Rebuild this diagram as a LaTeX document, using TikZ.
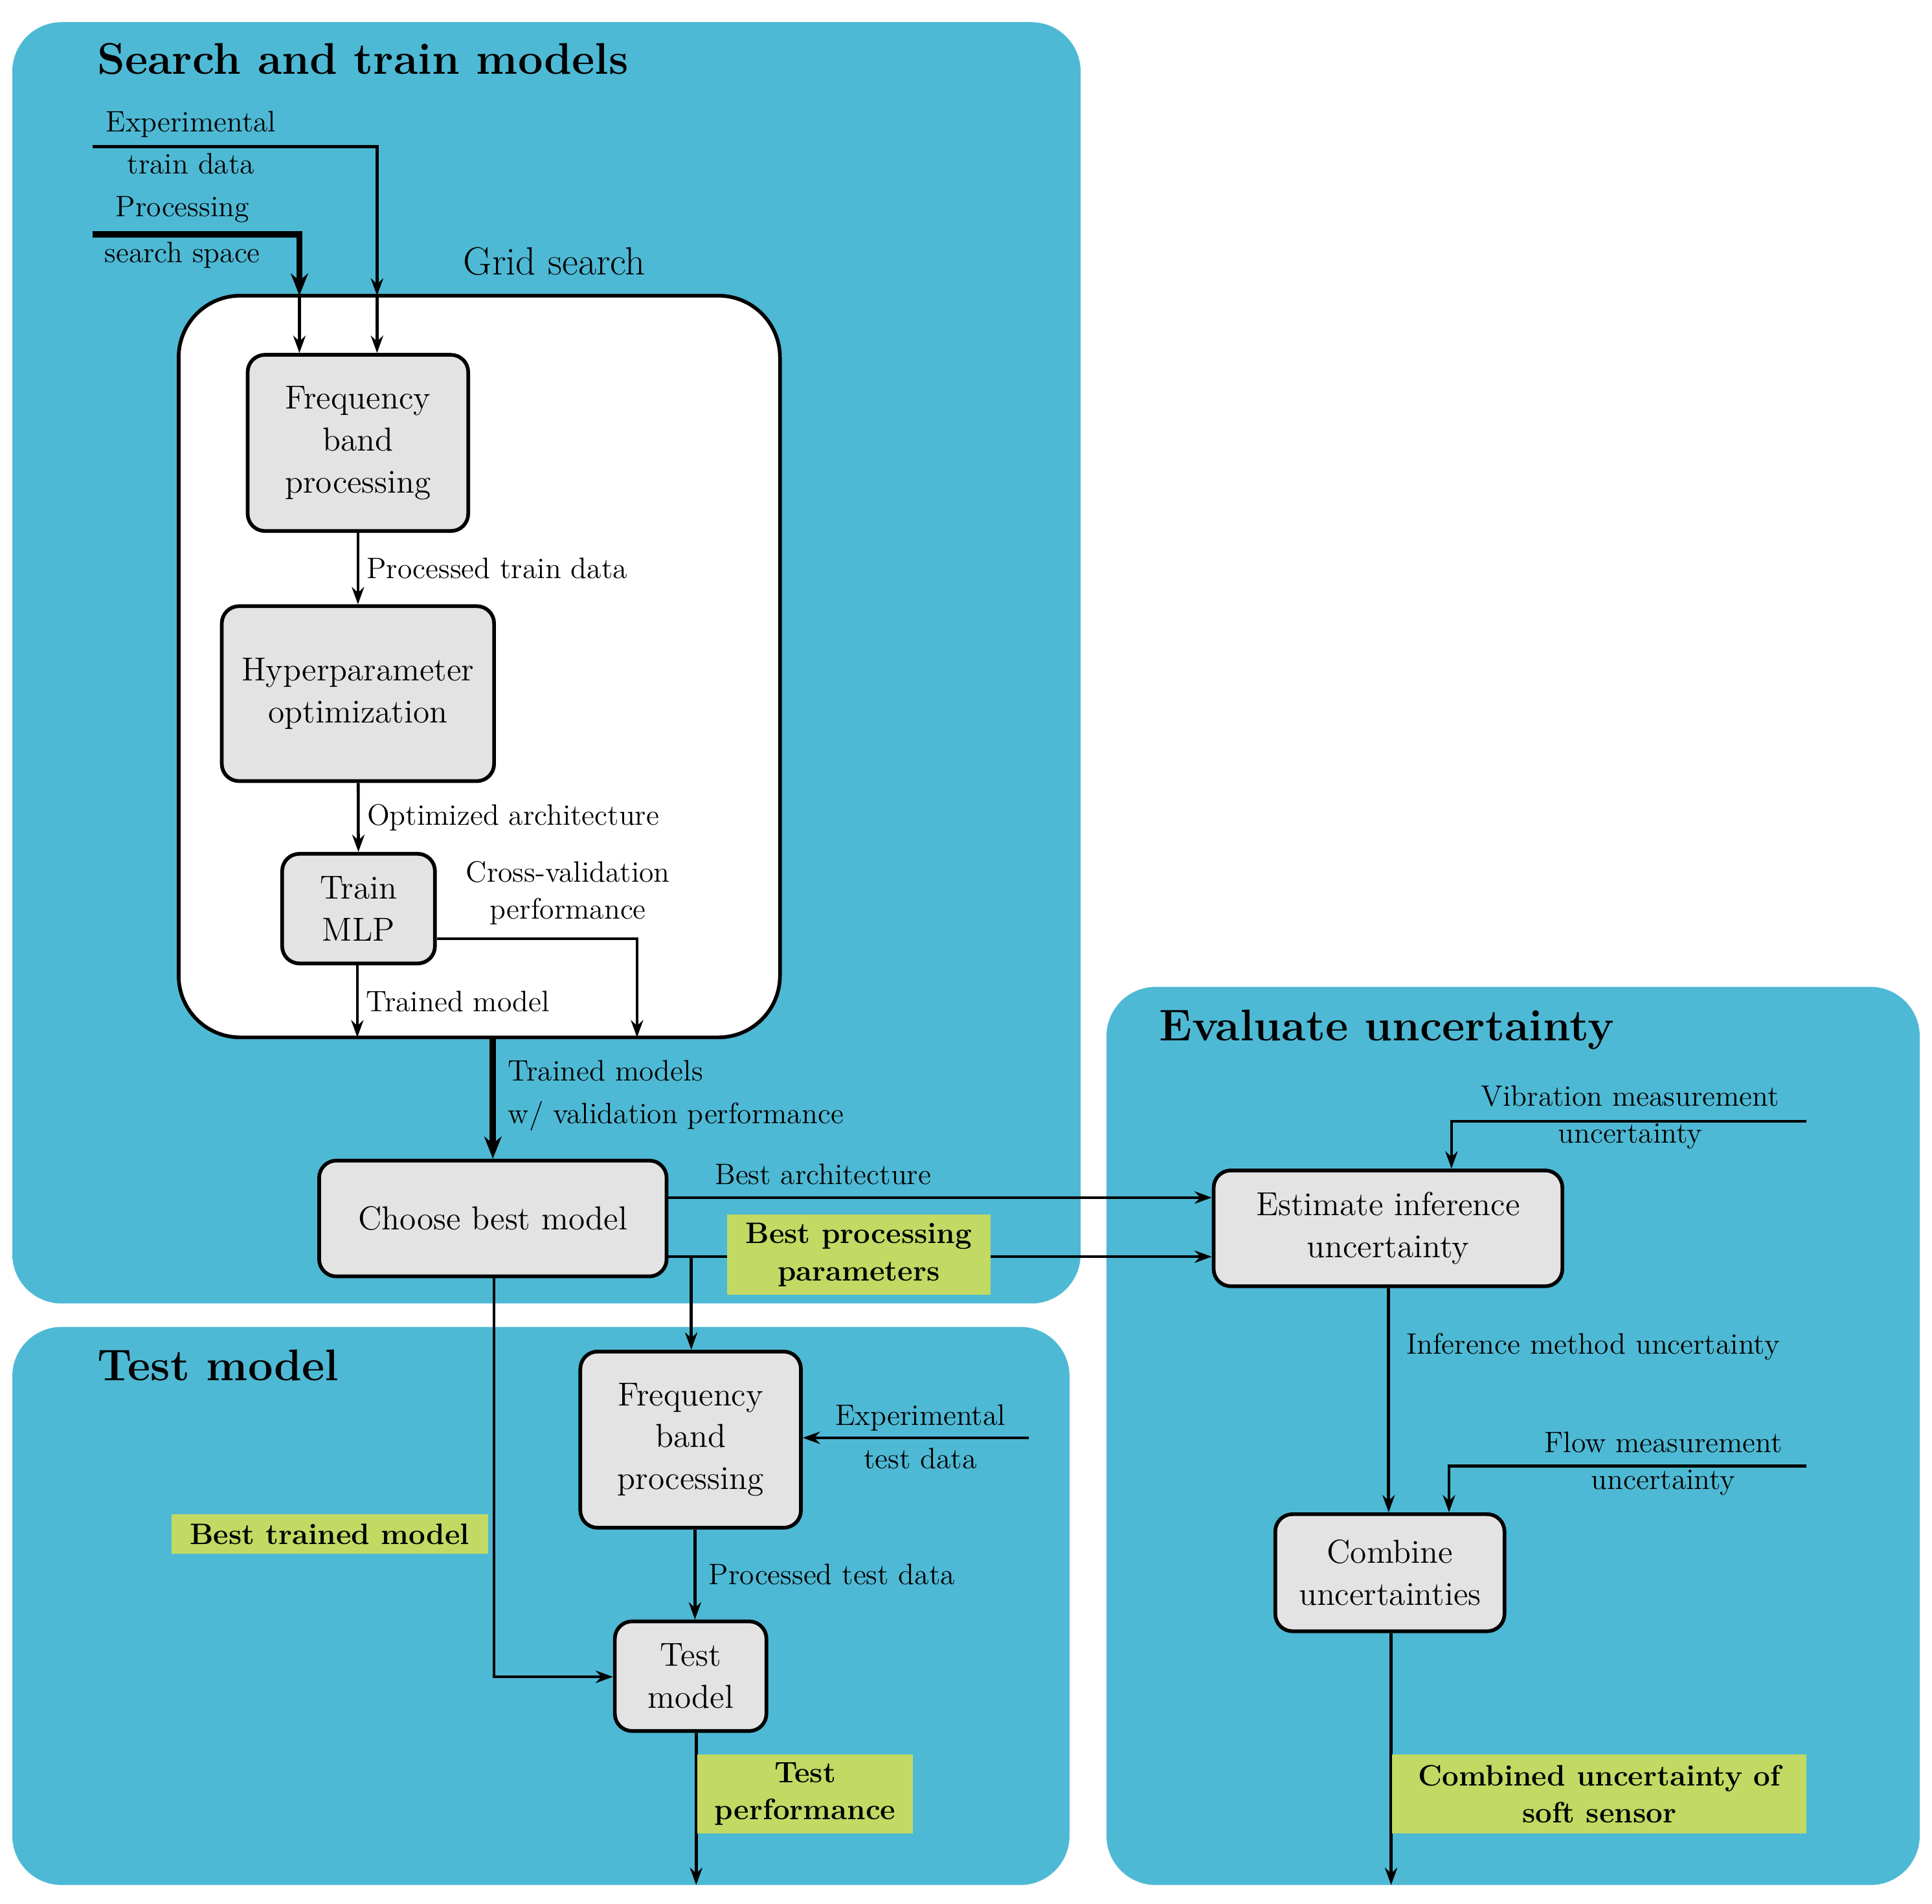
\documentclass[tikz,border=0pt]{standalone}
\usetikzlibrary{arrows.meta}
\begin{document}
\begin{tikzpicture}[x=0.5pt,y=-0.5pt,
 bg/.style={fill=cyanbg,draw=none,rounded corners=20pt},
 box/.style={draw,line width=1.5pt,fill=gray!22,rounded corners=7pt,align=center,font=\fontsize{13.5}{17}\selectfont},
 arr/.style={line width=1.2pt,-{Stealth[length=7pt,width=5pt]}},
 tarr/.style={line width=2.6pt,-{Stealth[length=9pt,width=7pt]}},
 lab/.style={font=\fontsize{12}{15}\selectfont,inner sep=1pt},
 glab/.style={fill=greenlab,font=\bfseries\fontsize{12}{15}\selectfont,align=center,inner sep=0pt},
 ttl/.style={font=\bfseries\fontsize{18}{22}\selectfont,anchor=west}]
\definecolor{cyanbg}{HTML}{4EB9D4}
\definecolor{greenlab}{HTML}{C2D963}
\useasboundingbox (0,0) rectangle (1568,1545);
\fill[bg] (10,18) rectangle (877,1058);
\fill[bg] (10,1077) rectangle (868,1530);
\fill[bg] (898,801) rectangle (1558,1530);
\node[ttl] (t1) at (72,48) {Search and train models};
\node[ttl] (t2) at (72,1108) {Test model};
\node[ttl] (t3) at (934,836) {Evaluate uncertainty};
\draw[line width=1.5pt,fill=white,rounded corners=25pt] (145,240) rectangle (633,842);
\node[font=\fontsize{16}{20}\selectfont] (gs) at (450,212) {Grid search};
\node[box,minimum width=89.5pt,minimum height=71.5pt] (f1) at (290.5,359.5) {Frequency\\band\\processing};
\node[box,minimum width=110.5pt,minimum height=71pt,inner sep=0pt] (hp) at (290.5,563) {Hyperparameter\\optimization};
\node[box,minimum width=62pt,minimum height=44.5pt,inner sep=0pt] (mlp) at (291,737.5) {Train\\MLP};
\node[box,minimum width=141pt,minimum height=47pt] (cb) at (400,989) {Choose best model};
\node[box,minimum width=89.5pt,minimum height=71.5pt] (f2) at (560.5,1168.5) {Frequency\\band\\processing};
\node[box,minimum width=61.5pt,minimum height=44.5pt,inner sep=0pt] (tm) at (560.5,1360.5) {Test\\model};
\node[box,minimum width=141.5pt,minimum height=47pt] (eu) at (1126.5,997) {Estimate inference\\uncertainty};
\node[box,minimum width=93pt,minimum height=47.5pt,inner sep=0pt] (cu) at (1128,1276.5) {Combine\\uncertainties};
\coordinate (g1) at (243,240); \coordinate (g2) at (306,240);
\coordinate (gb1) at (290,842); \coordinate (gb2) at (517,842); \coordinate (gb3) at (400,842);
\draw[arr] (75,119) -- (306,119) -- (g2);
\draw[arr] (g2) -- (f1.north -| g2);
\draw[tarr] (75,190) -- (243,190) -- (g1);
\draw[arr] (g1) -- (f1.north -| g1);
\node[lab] (l1) at (155,101) {Experimental};
\node[lab] (l2) at (155,133) {train data};
\node[lab] (l3) at (148,170) {Processing};
\node[lab] (l4) at (148,207) {search space};
\draw[arr] (f1) -- (hp) node[lab,midway,anchor=west,xshift=2pt] {Processed train data};
\draw[arr] (hp) -- (mlp) node[lab,midway,anchor=west,xshift=2pt] {Optimized architecture};
\draw[arr] (mlp.south -| gb1) -- (gb1) node[lab,midway,anchor=west,xshift=2pt] {Trained model};
\draw[arr] (mlp.east |- 0,762) -- (517,762) -- (gb2);
\node[lab,align=center] (cv) at (461,725) {Cross-validation\\performance};
\draw[tarr] (gb3) -- (cb.north);
\node[lab,anchor=west] (tw1) at (410,869) {Trained models};
\node[lab,anchor=west] (tw2) at (410,906) {w/ validation performance};
\draw[arr] (cb.east |- 0,972) -- (eu.west |- 0,972);
\node[lab] (ba) at (668,953) {Best architecture};
\draw[arr] (cb.east |- 0,1020) -- (eu.west |- 0,1020);
\draw[arr] (561,1020) -- (f2.north -| 561,0);
\node[glab,minimum width=107pt,minimum height=32.5pt] (bp) at (697,1018.5) {Best processing\\parameters};
\draw[arr] (cb.south -| 401,0) -- (401,1361) -- (tm.west |- 0,1361);
\node[glab,minimum width=128.5pt,minimum height=16pt] (bt) at (267.5,1245) {Best trained model};
\draw[arr] (835,1167) -- (f2.east |- 0,1167);
\node[lab] (e1) at (747,1151) {Experimental};
\node[lab] (e2) at (747,1184) {test data};
\draw[arr] (f2.south -| 564,0) -- (tm.north -| 564,0) node[lab,midway,anchor=west,xshift=4pt] {Processed test data};
\coordinate (te) at (565,1530);
\draw[arr] (tm.south -| te) -- (te);
\node[glab,minimum width=87.5pt,minimum height=32pt] (tp) at (653.5,1456) {Test\\performance};
\draw[arr] (1466,910) -- (1178,910) -- (eu.north -| 1178,0);
\node[lab,align=center] (vm) at (1323,907) {Vibration measurement\\uncertainty};
\draw[arr] (eu.south -| 1127,0) -- (cu.north -| 1127,0);
\node[lab,anchor=west] (im) at (1139,1093) {Inference method uncertainty};
\draw[arr] (1466,1190) -- (1176,1190) -- (cu.north -| 1176,0);
\node[lab,align=center] (fm) at (1350,1188) {Flow measurement\\uncertainty};
\coordinate (ce) at (1129,1530);
\draw[arr] (cu.south -| ce) -- (ce);
\node[glab,minimum width=168pt,minimum height=32pt] (cs) at (1298,1456) {Combined uncertainty of\\soft sensor};
\end{tikzpicture}
\end{document}
